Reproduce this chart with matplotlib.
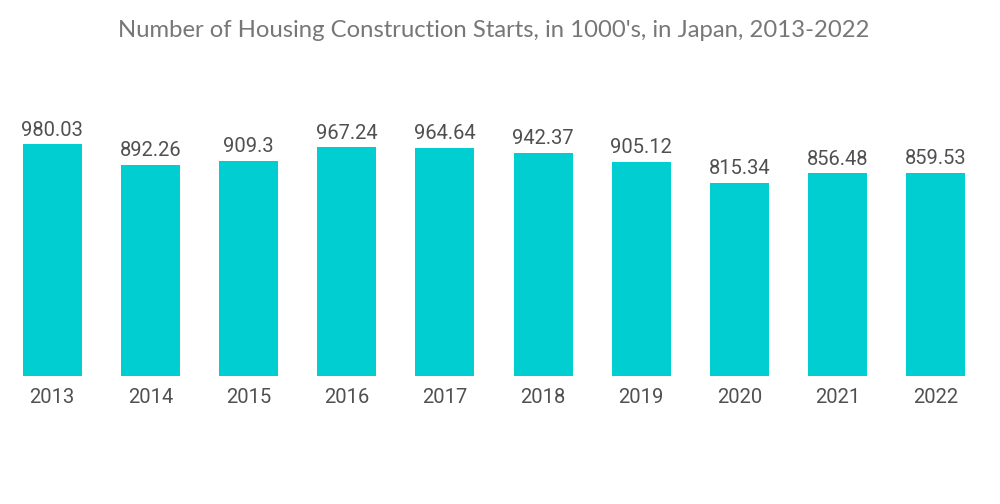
import matplotlib
matplotlib.use("Agg")
import matplotlib.pyplot as plt

# data
years = ['2013', '2014', '2015', '2016', '2017', '2018', '2019', '2020', '2021', '2022']
starts = [980.03, 892.26, 909.3, 967.24, 964.64, 942.37, 905.12, 815.34, 856.48, 859.53]
labels = ['980.03', '892.26', '909.3', '967.24', '964.64', '942.37', '905.12', '815.34', '856.48', '859.53']

bar_color = '#00CED1'
text_color = '#505050'

fig = plt.figure(figsize=(10, 5.04), dpi=100)
ax = fig.add_axes([0.003, 0.254, 0.982, 0.516])

x = range(len(years))
ax.bar(x, starts, width=0.6, color=bar_color)
for i, v in enumerate(starts):
  ax.text(i, v + 20, labels[i], ha='center', va='bottom', fontsize=14.5,
          family='Roboto', color=text_color)

ax.set_xlim(-0.5, len(years) - 0.5)
ax.set_ylim(0, 1100)
ax.set_xticks(list(x))
ax.set_xticklabels(years, fontsize=14.5, family='Roboto', color=text_color)
ax.tick_params(axis='x', length=0, pad=9)
ax.set_yticks([])
for s in ax.spines.values():
  s.set_visible(False)

fig.text(0.494, 0.94, "Number of Housing Construction Starts, in 1000's, in Japan, 2013-2022",
         ha='center', va='center', fontsize=17.2, family='Lato', color='#777777')

fig.savefig('out.png', dpi=100)
